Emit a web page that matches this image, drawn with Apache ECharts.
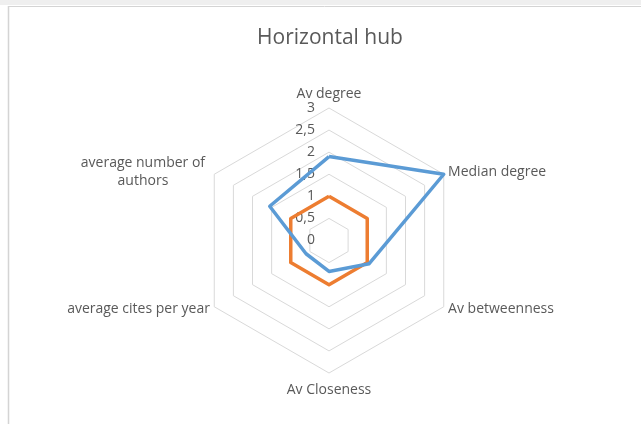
<!DOCTYPE html>
<html>
<head>
<meta charset="utf-8">
<script src="https://cdn.jsdelivr.net/npm/echarts@6/dist/echarts.min.js"></script>
<style>
html,body{margin:0;padding:0;background:#fff;}
#chart{width:641px;height:424px;}
</style>
</head>
<body>
<div id="chart"></div>
<script>
// Categories in the reference's clockwise order, starting at the top
const categories = ['Av degree', 'Median degree', 'Av betweenness', 'Av Closeness', 'average cites per year', 'average number of authors'];
const seriesBlue = [1.9, 3, 1.05, 0.7, 0.6, 1.55];
const seriesOrange = [1, 1, 1, 1, 1, 1];
const axisMax = 3;
const tickStep = 0.5;

// ECharts places indicators counter-clockwise; reorder to match the clockwise layout
const order = [0, 5, 4, 3, 2, 1];
const pick = arr => order.map(i => arr[i]);

const chart = echarts.init(document.getElementById('chart'), null, {renderer: 'canvas'});
const font = 'Open Sans';
const textColor = '#595959';

const indicators = order.map((i, k) => {
  const ind = {name: categories[i], min: 0, max: axisMax};
  if (k !== 0) ind.axisLabel = {show: false};
  // top and bottom labels sit a bit further from the grid
  if (k === 0) ind.nameGap = 7;
  if (k === 3) ind.nameGap = 10;
  return ind;
});

chart.setOption({
  animation: false,
  backgroundColor: '#fff',
  title: {
    text: 'Horizontal hub',
    left: 325,
    textAlign: 'center',
    top: 23,
    textStyle: {fontFamily: font, fontSize: 21, fontWeight: 'normal', color: textColor}
  },
  graphic: [
    {type: 'rect', shape: {x: 0, y: 0, width: 641, height: 5}, style: {fill: '#efefef'}, silent: true},
    {type: 'line', shape: {x1: 8, y1: 6.5, x2: 641, y2: 6.5}, style: {stroke: '#d4d4d4', lineWidth: 1}, silent: true},
    {type: 'line', shape: {x1: 8.5, y1: 6, x2: 8.5, y2: 424}, style: {stroke: '#d4d4d4', lineWidth: 1.5}, silent: true}
  ],
  radar: {
    center: [329, 240.5],
    radius: 132.5,
    shape: 'polygon',
    splitNumber: axisMax / tickStep,
    indicator: indicators,
    nameGap: 5,
    axisName: {
      color: textColor,
      fontFamily: font,
      fontSize: 14,
      formatter: function (name) {
        if (name === 'average number of authors') {
          return '{c|average number of}\n{c|authors}';
        }
        return name;
      },
      rich: {c: {width: 134, align: 'center', color: textColor, fontFamily: font, fontSize: 14, lineHeight: 18}}
    },
    axisLine: {show: false},
    axisTick: {show: false},
    splitArea: {show: false},
    splitLine: {lineStyle: {color: '#d9d9d9', width: 1}},
    axisLabel: {
      show: true,
      color: textColor,
      fontFamily: font,
      fontSize: 14,
      margin: 14,
      formatter: v => String(v).replace('.', ',')
    }
  },
  series: [{
    type: 'radar',
    symbol: 'none',
    data: [
      {value: pick(seriesOrange), name: 'Series 2', lineStyle: {color: '#ED7D31', width: 3.5}, itemStyle: {color: '#ED7D31'}},
      {value: pick(seriesBlue), name: 'Series 1', lineStyle: {color: '#5B9BD5', width: 3.5}, itemStyle: {color: '#5B9BD5'}}
    ]
  }]
});
</script>
</body>
</html>
